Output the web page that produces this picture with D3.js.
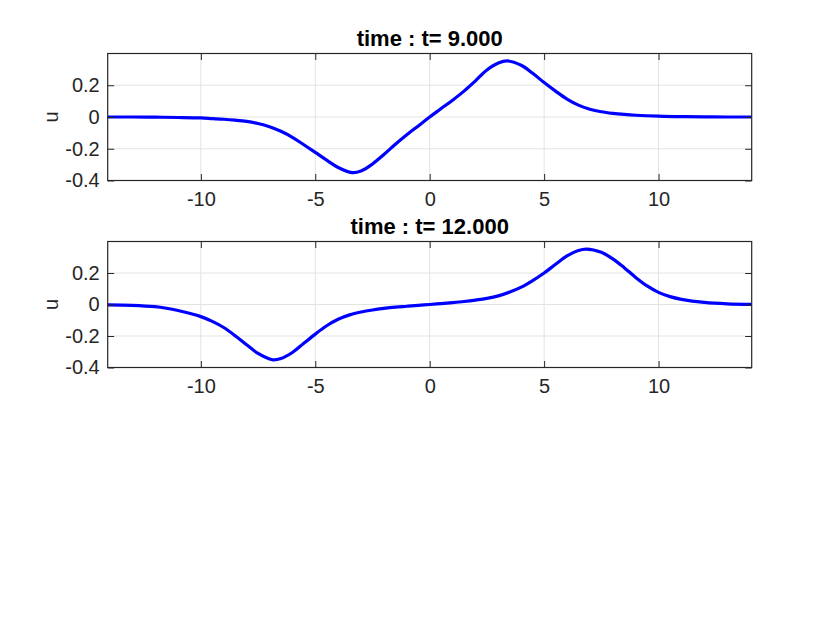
<!DOCTYPE html>
<html>
<head>
<meta charset="utf-8">
<script src="https://cdn.jsdelivr.net/npm/d3@7"></script>
<style>
  html, body { margin: 0; padding: 0; background: #fff; }
  svg { display: block; }
  text { font-family: "Liberation Sans", Arial, Helvetica, sans-serif; }
</style>
</head>
<body>
<svg id="chart" width="830" height="623"></svg>
<script>
// ---- data ----
const titles = ["time : t= 9.000", "time : t= 12.000"];
const yLabel = "u";
const xTicks = [-10, -5, 0, 5, 10];
const yTicks = [-0.4, -0.2, 0, 0.2];
const xDomain = [-14.07, 14.07];
const yDomain = [-0.4, 0.4];

const xT9 = [-14.07, -13, -12, -11, -10, -9.5, -9, -8.5, -8, -7.5, -7, -6.5, -6, -5.5, -5, -4.5, -4, -3.4, -3, -2.5, -2, -1.5, -1, -0.5, 0,
             0.5, 1, 1.5, 2, 2.5, 3, 3.4, 4, 4.5, 5, 5.5, 6, 6.5, 7, 7.5, 8, 8.5, 9, 10, 11, 12, 13, 14.07];
const uT9 = [0, 0, -0.001, -0.003, -0.006, -0.01, -0.014, -0.02, -0.028, -0.041, -0.061, -0.09, -0.128, -0.175, -0.223, -0.272, -0.318, -0.35, -0.34, -0.296, -0.236, -0.172, -0.112, -0.056, 0,
             0.053, 0.106, 0.163, 0.228, 0.296, 0.34, 0.353, 0.326, 0.275, 0.217, 0.163, 0.113, 0.075, 0.049, 0.033, 0.023, 0.016, 0.011, 0.005, 0.002, 0.001, 0, 0];

const xT12 = [-14.07, -13, -12, -11.5, -11, -10.5, -10, -9.5, -9, -8.5, -8, -7.5, -7, -6.85, -6.5, -6, -5.5, -5, -4.5, -4, -3.5, -3, -2.5, -2, -1.5, -1, -0.5, 0,
              0.5, 1, 1.5, 2, 2.5, 3, 3.5, 4, 4.5, 5, 5.5, 6, 6.5, 6.85, 7.5, 8, 8.5, 9, 9.5, 10, 10.5, 11, 12, 13, 14.07];
const uT12 = [-0.002, -0.005, -0.014, -0.024, -0.038, -0.056, -0.077, -0.107, -0.146, -0.198, -0.256, -0.311, -0.346, -0.351, -0.343, -0.305, -0.246, -0.188, -0.135, -0.094, -0.066, -0.048, -0.035, -0.025, -0.017, -0.011, -0.005, 0,
              0.006, 0.012, 0.019, 0.028, 0.039, 0.055, 0.079, 0.11, 0.152, 0.2, 0.255, 0.308, 0.343, 0.352, 0.331, 0.29, 0.234, 0.172, 0.118, 0.077, 0.05, 0.033, 0.013, 0.004, 0.001];

const panels = [
  { title: titles[0], xs: xT9, us: uT9, top: 53.5, bottom: 180.5 },
  { title: titles[1], xs: xT12, us: uT12, top: 241.5, bottom: 367.5 }
];

const svg = d3.select("#chart");
const left = 107.7, right = 751.7;
const axisColor = "#262626", gridColor = "#e3e3e3";
const tickLen = 6.5;

panels.forEach(p => {
  const x = d3.scaleLinear().domain(xDomain).range([left, right]);
  const y = d3.scaleLinear().domain(yDomain).range([p.bottom, p.top]);
  const g = svg.append("g");

  // grid
  g.append("g").selectAll("line").data(xTicks).join("line")
    .attr("x1", d => x(d)).attr("x2", d => x(d))
    .attr("y1", p.top).attr("y2", p.bottom)
    .attr("stroke", gridColor).attr("stroke-width", 1);
  g.append("g").selectAll("line").data(yTicks).join("line")
    .attr("y1", d => y(d)).attr("y2", d => y(d))
    .attr("x1", left).attr("x2", right)
    .attr("stroke", gridColor).attr("stroke-width", 1);

  // curve
  const line = d3.line().x(d => x(d[0])).y(d => y(d[1])).curve(d3.curveCatmullRom.alpha(0.5));
  g.append("path")
    .datum(p.xs.map((v, i) => [v, p.us[i]]))
    .attr("d", line)
    .attr("fill", "none")
    .attr("stroke", "#0000ff")
    .attr("stroke-width", 3.2)
    .attr("stroke-linejoin", "round");

  const fmtY = d => d === 0 ? "0" : d3.format(".1f")(d).replace("−", "-");
  const fmtX = d => String(d);

  const ax = g.append("g").attr("transform", `translate(0,${p.bottom})`)
    .call(d3.axisBottom(x).tickValues(xTicks).tickSizeInner(-tickLen).tickSizeOuter(0).tickPadding(12).tickFormat(fmtX));
  const axt = g.append("g").attr("transform", `translate(0,${p.top})`)
    .call(d3.axisTop(x).tickValues(xTicks).tickSizeInner(-tickLen).tickSizeOuter(0).tickFormat(""));
  const ay = g.append("g").attr("transform", `translate(${left},0)`)
    .call(d3.axisLeft(y).tickValues(yTicks).tickSizeInner(-tickLen).tickSizeOuter(0).tickPadding(8).tickFormat(fmtY));
  const ayr = g.append("g").attr("transform", `translate(${right},0)`)
    .call(d3.axisRight(y).tickValues(yTicks).tickSizeInner(-tickLen).tickSizeOuter(0).tickFormat(""));

  [ax, axt, ay, ayr].forEach(a => {
    a.select(".domain").remove();
    a.selectAll(".tick line").attr("stroke", axisColor).attr("stroke-width", 1);
    a.selectAll(".tick text").attr("fill", axisColor).style("font-size", "20px")
      .style("font-family", "'Liberation Sans', Arial, Helvetica, sans-serif");
  });
  ax.selectAll(".tick text").attr("dy", "0.71em").attr("y", 11);

  // box
  g.append("rect")
    .attr("x", left).attr("y", p.top)
    .attr("width", right - left).attr("height", p.bottom - p.top)
    .attr("fill", "none").attr("stroke", axisColor).attr("stroke-width", 1.2);

  // y label
  g.append("text")
    .attr("transform", `translate(58,${(p.top + p.bottom) / 2}) rotate(-90)`)
    .attr("text-anchor", "middle")
    .attr("fill", axisColor)
    .style("font-size", "20px")
    .text(yLabel);

  // title
  g.append("text")
    .attr("x", (left + right) / 2)
    .attr("y", p.top - 8)
    .attr("text-anchor", "middle")
    .attr("fill", "#000")
    .style("font-size", "22px")
    .style("font-weight", "bold")
    .text(p.title);
});
</script>
</body>
</html>
